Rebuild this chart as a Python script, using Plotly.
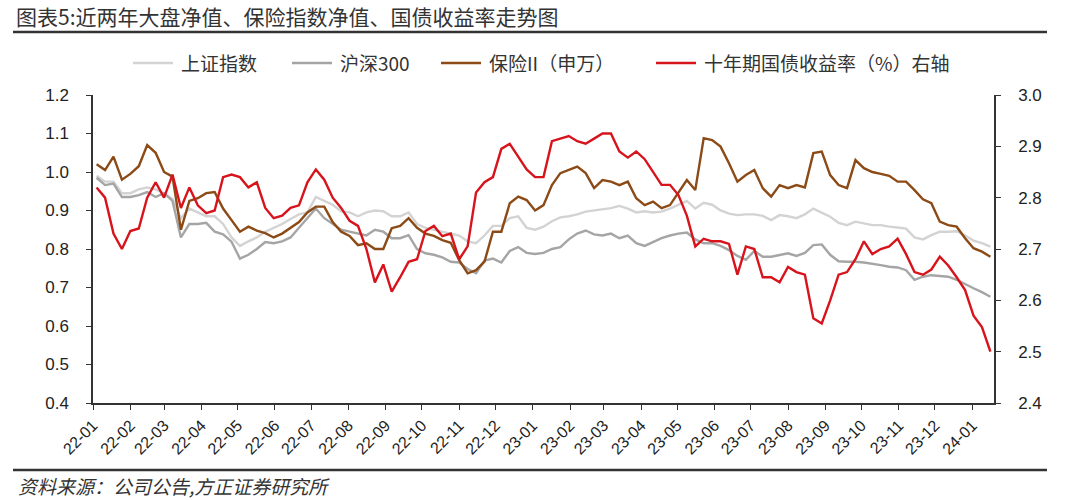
import pandas as pd
import plotly.graph_objects as go

# weekly sampling dates (x grid)
dates = pd.date_range("2022-01-04", periods=107, freq="7D")

# 上证指数 (net value, left axis)
sh_index = [0.99, 0.975, 0.975, 0.945, 0.945, 0.955, 0.96, 0.955, 0.945, 0.93,
            0.88, 0.905, 0.895, 0.885, 0.885, 0.865, 0.83, 0.808, 0.82, 0.83,
            0.845, 0.855, 0.865, 0.878, 0.89, 0.895, 0.935, 0.925, 0.915, 0.898,
            0.895, 0.885, 0.895, 0.90, 0.898, 0.885, 0.885, 0.895, 0.865, 0.855,
            0.85, 0.845, 0.84, 0.835, 0.82, 0.815, 0.835, 0.86, 0.86, 0.88,
            0.885, 0.855, 0.85, 0.858, 0.872, 0.882, 0.885, 0.89, 0.897, 0.90,
            0.902, 0.906, 0.912, 0.905, 0.895, 0.898, 0.895, 0.897, 0.905, 0.915,
            0.925, 0.905, 0.92, 0.915, 0.90, 0.892, 0.888, 0.89, 0.89, 0.886,
            0.875, 0.888, 0.885, 0.88, 0.89, 0.905, 0.895, 0.884, 0.868, 0.862,
            0.871, 0.866, 0.862, 0.862, 0.858, 0.856, 0.853, 0.83, 0.825, 0.836,
            0.845, 0.845, 0.846, 0.835, 0.822, 0.815, 0.806]

# 沪深300 (net value, left axis)
hs300 = [0.985, 0.966, 0.97, 0.935, 0.935, 0.94, 0.948, 0.935, 0.945, 0.925,
         0.83, 0.865, 0.865, 0.868, 0.845, 0.838, 0.819, 0.775, 0.785, 0.80,
         0.818, 0.815, 0.82, 0.83, 0.855, 0.88, 0.905, 0.88, 0.865, 0.85,
         0.845, 0.84, 0.835, 0.85, 0.845, 0.828, 0.828, 0.836, 0.80, 0.789,
         0.785, 0.778, 0.767, 0.765, 0.748, 0.737, 0.77, 0.775, 0.765, 0.795,
         0.805, 0.79, 0.787, 0.79, 0.80, 0.805, 0.825, 0.84, 0.848, 0.838,
         0.835, 0.84, 0.828, 0.835, 0.815, 0.808, 0.818, 0.828, 0.835, 0.84,
         0.843, 0.825, 0.815, 0.815, 0.808, 0.797, 0.782, 0.772, 0.795, 0.78,
         0.78, 0.785, 0.789, 0.782, 0.79, 0.81, 0.812, 0.785, 0.768, 0.767,
         0.767, 0.765, 0.762, 0.758, 0.754, 0.752, 0.745, 0.72, 0.728, 0.732,
         0.73, 0.728, 0.72, 0.708, 0.698, 0.688, 0.676]

# 保险II（申万） (net value, left axis)
insurance = [1.02, 1.005, 1.04, 0.98, 0.995, 1.015, 1.07, 1.05, 1.0, 0.988,
             0.85, 0.925, 0.932, 0.945, 0.948, 0.905, 0.875, 0.845, 0.858, 0.848,
             0.841, 0.83, 0.84, 0.855, 0.87, 0.895, 0.91, 0.91, 0.87, 0.845,
             0.834, 0.81, 0.815, 0.80, 0.80, 0.854, 0.86, 0.88, 0.855, 0.84,
             0.834, 0.823, 0.816, 0.771, 0.737, 0.745, 0.767, 0.845, 0.845, 0.919,
             0.936, 0.927, 0.90, 0.914, 0.966, 0.997, 1.005, 1.014, 0.997, 0.958,
             0.979, 0.975, 0.966, 0.975, 0.932, 0.914, 0.923, 0.906, 0.914, 0.945,
             0.979, 0.953, 1.088, 1.083, 1.066, 1.023, 0.975, 0.992, 1.005, 0.958,
             0.936, 0.966, 0.958, 0.966, 0.96, 1.049, 1.053, 0.992, 0.966, 0.958,
             1.031, 1.01, 1.0, 0.995, 0.99, 0.975, 0.975, 0.953, 0.929, 0.919,
             0.871, 0.862, 0.858, 0.828, 0.802, 0.793, 0.78]

# 十年期国债收益率（%） (right axis)
bond_yield = [2.82, 2.80, 2.73, 2.70, 2.735, 2.74, 2.80, 2.83, 2.80, 2.845,
              2.78, 2.82, 2.785, 2.77, 2.775, 2.84, 2.845, 2.84, 2.82, 2.83,
              2.78, 2.76, 2.765, 2.78, 2.785, 2.83, 2.855, 2.835, 2.80, 2.78,
              2.755, 2.745, 2.70, 2.635, 2.67, 2.617, 2.645, 2.675, 2.68, 2.735,
              2.745, 2.725, 2.73, 2.68, 2.705, 2.81, 2.83, 2.84, 2.895, 2.905,
              2.88, 2.855, 2.84, 2.84, 2.91, 2.915, 2.92, 2.91, 2.905, 2.915,
              2.925, 2.925, 2.89, 2.878, 2.89, 2.875, 2.85, 2.825, 2.825, 2.805,
              2.765, 2.705, 2.72, 2.715, 2.715, 2.71, 2.65, 2.705, 2.70, 2.645,
              2.645, 2.635, 2.665, 2.655, 2.65, 2.565, 2.555, 2.60, 2.65, 2.655,
              2.68, 2.715, 2.69, 2.70, 2.705, 2.72, 2.69, 2.655, 2.65, 2.66,
              2.685, 2.668, 2.645, 2.62, 2.57, 2.548, 2.50]

names = ["上证指数", "沪深300", "保险II（申万）", "十年期国债收益率（%）右轴"]
colors = ["#D3D3D3", "#A5A5A5", "#8B4A16", "#D7141C"]

CJK = "Noto Sans CJK SC"
NUM = "Liberation Sans"
LW = 2.4

fig = go.Figure()
for vals, name, col in zip([sh_index, hs300, insurance], names[:3], colors[:3]):
    fig.add_trace(go.Scatter(x=dates, y=vals, name=name, mode="lines",
                             line=dict(color=col, width=LW)))
fig.add_trace(go.Scatter(x=dates, y=bond_yield, name=names[3], mode="lines",
                         line=dict(color=colors[3], width=LW), yaxis="y2"))

L, R, T, B = 93, 86, 95, 97
W, H = 1080, 500
pw, ph = W - L - R, H - T - B


def px(xp):
    return (xp - L) / pw


def py(yp):
    return (H - B - yp) / ph


fig.update_layout(
    width=W, height=H,
    margin=dict(l=L, r=R, t=T, b=B),
    paper_bgcolor="white", plot_bgcolor="white",
    font=dict(family=CJK, color="#333333"),
    showlegend=False,
    xaxis=dict(type="date", range=["2022-01-01", "2024-01-19"], dtick="M1",
               tick0="2022-01-01", tickformat="%y-%m", tickangle=-45,
               showline=True, linecolor="#333333", linewidth=1.5,
               ticks="outside", ticklen=5, tickcolor="#333333",
               showgrid=False, zeroline=False,
               tickfont=dict(family=NUM, size=16, color="#222222")),
    yaxis=dict(range=[0.4, 1.2], dtick=0.1, tickformat=".1f",
               showline=True, linecolor="#333333", linewidth=1.5,
               ticks="outside", ticklen=5, tickcolor="#333333",
               showgrid=False, zeroline=False, ticklabelstandoff=14,
               tickfont=dict(family=NUM, size=17, color="#222222")),
    yaxis2=dict(range=[2.4, 3.0], dtick=0.1, tickformat=".1f", overlaying="y", side="right",
                showline=True, linecolor="#333333", linewidth=1.5,
                ticks="outside", ticklen=5, tickcolor="#333333",
                showgrid=False, zeroline=False, ticklabelstandoff=14,
                tickfont=dict(family=NUM, size=17, color="#222222")),
)

# legend drawn as line samples + labels
leg_line_x = [133, 292, 441, 656]
for xs, name, col in zip(leg_line_x, names, colors):
    fig.add_shape(type="line", xref="paper", yref="paper", x0=px(xs), x1=px(xs + 40),
                  y0=py(63), y1=py(63), line=dict(color=col, width=2.6))
    fig.add_annotation(text=name, xref="paper", yref="paper", x=px(xs + 46), y=py(63),
                       xanchor="left", yanchor="middle", showarrow=False,
                       font=dict(family=CJK, size=19, color="#333333"))

# title, rules and source
fig.add_annotation(text="图表5:近两年大盘净值、保险指数净值、国债收益率走势图",
                   xref="paper", yref="paper", x=px(14), y=py(16), xanchor="left", yanchor="middle",
                   showarrow=False, font=dict(family=CJK, size=21, color="#333333"))
fig.add_annotation(text="资料来源：公司公告,方正证券研究所",
                   xref="paper", yref="paper", x=px(16), y=py(485), xanchor="left", yanchor="middle",
                   showarrow=False, font=dict(family=CJK, size=19, color="#333333", style="italic"))
for yline in (32, 470):
    fig.add_shape(type="line", xref="paper", yref="paper", x0=px(13), x1=px(1047),
                  y0=py(yline), y1=py(yline), line=dict(color="#333333", width=2.5))

fig.write_html("out.html")
